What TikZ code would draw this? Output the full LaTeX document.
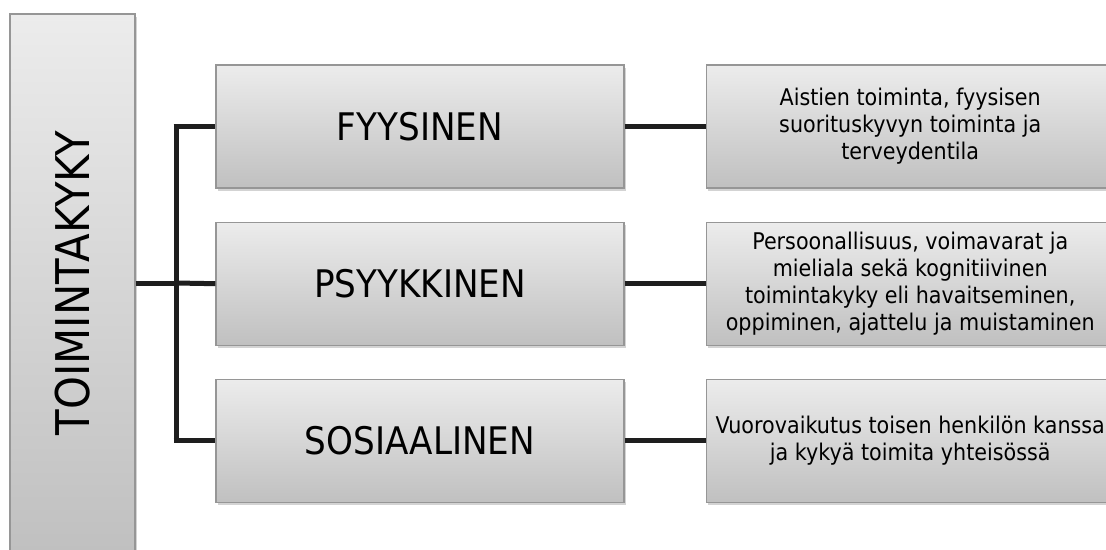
\documentclass[tikz,border=0pt]{standalone}
\usepackage{fontspec}
\setmainfont{DejaVu Sans}[FakeStretch=0.9]
\usetikzlibrary{positioning, shadows}
\definecolor{cTop}{RGB}{236,236,236}
\definecolor{cBot}{RGB}{192,192,192}
\definecolor{cEdge}{RGB}{150,150,150}
\definecolor{cLine}{RGB}{30,30,30}
\tikzset{
    box/.style={
        rectangle, draw=cEdge, line width=1.2pt,
        top color=cTop, bottom color=cBot,
        drop shadow={shadow xshift=1.5pt, shadow yshift=-3pt, opacity=0.35},
        align=center, inner sep=2pt,
        minimum width=408pt, minimum height=123pt,
    },
    mainbox/.style={
        box, minimum width=125pt, minimum height=538pt,
        font=\fontsize{46.5}{50}\selectfont,
    },
    levelbox/.style={box, font=\fontsize{38}{42}\selectfont},
    notebox/.style={box, font=\fontsize{23}{27}\selectfont},
    link/.style={line width=5pt, draw=cLine},
}

\begin{document}
\begin{tikzpicture}[x=1pt, y=-1pt]
\useasboundingbox (0,0) rectangle (1106,549);

% ============================================================
%  Main box (left, rotated title)
% ============================================================
\node[mainbox] (main) at (72.5,283) {\rotatebox{90}{TOIMINTAKYKY}};

% ============================================================
%  Middle column: the three sides of the concept
% ============================================================
\node[levelbox] (fyys) at (420,126.5) {FYYSINEN};
\node[levelbox, below=33pt of fyys] (psyk) {PSYYKKINEN};
\node[levelbox, below=33pt of psyk] (sosi) {SOSIAALINEN};

% ============================================================
%  Right column: short descriptions
% ============================================================
\node[notebox, right=81pt of fyys] (dfyys) {%
    Aistien toiminta, fyysisen\\
    suorituskyvyn toiminta ja\\
    terveydentila};
\node[notebox, right=81pt of psyk] (dpsyk) {%
    Persoonallisuus, voimavarat ja\\
    mieliala sekä kognitiivinen\\
    toimintakyky eli havaitseminen,\\
    oppiminen, ajattelu ja muistaminen};
\node[notebox, right=81pt of sosi] (dsosi) {%
    Vuorovaikutus toisen henkilön kanssa\\
    ja kykyä toimita yhteisössä};

% ============================================================
%  Connectors
% ============================================================
\coordinate (spine) at (176,283);
\coordinate (top) at (spine |- fyys.west);
\coordinate (bot) at (spine |- sosi.west);

\draw[link] (main.east |- spine) -- (spine);
\draw[link, line cap=butt] (top) -- (bot);
\draw[link] ([xshift=-2.5pt]top) -- (fyys.west);
\draw[link] (spine) -- (psyk.west);
\draw[link] ([xshift=-2.5pt]bot) -- (sosi.west);

\draw[link] (fyys) -- (dfyys);
\draw[link] (psyk) -- (dpsyk);
\draw[link] (sosi) -- (dsosi);

\end{tikzpicture}
\end{document}
